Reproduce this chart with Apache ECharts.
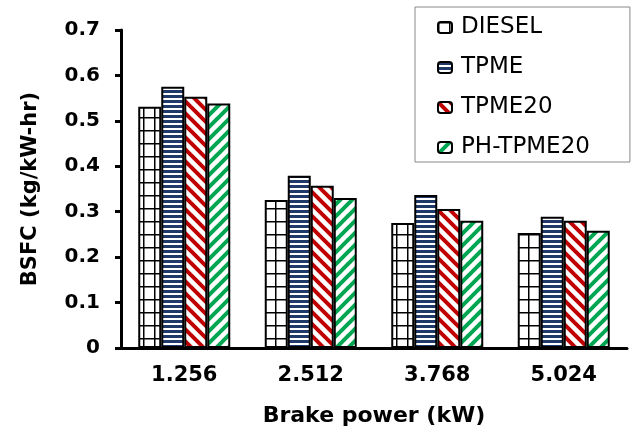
<!DOCTYPE html>
<html><head><meta charset="utf-8">
<script src="https://cdn.jsdelivr.net/npm/echarts@6/dist/echarts.min.js"></script>
<style>html,body{margin:0;padding:0;background:#fff}#c{width:635px;height:435px}</style>
</head><body><div id="c"></div>
<script>
var categories = ['1.256', '2.512', '3.768', '5.024'];
var seriesNames = ['DIESEL', 'TPME', 'TPME20', 'PH-TPME20'];
var diesel = [0.531, 0.326, 0.275, 0.253];
var tpme = [0.575, 0.379, 0.337, 0.289];
var tpme20 = [0.553, 0.357, 0.306, 0.280];
var phTpme20 = [0.538, 0.330, 0.280, 0.258];

function makeCanvas(w, h, draw) {
  var c = document.createElement('canvas');
  c.width = w; c.height = h;
  var ctx = c.getContext('2d');
  ctx.fillStyle = '#fff'; ctx.fillRect(0, 0, w, h);
  draw(ctx, w, h);
  return c;
}
var gridPat = makeCanvas(11, 13, function (ctx, w, h) {
  ctx.fillStyle = '#000';
  ctx.fillRect(0, 0, w, 1.5);
  ctx.fillRect(0, 0, 1.5, h);
});
var hPat = makeCanvas(6, 5, function (ctx, w, h) {
  ctx.fillStyle = '#1F3A68';
  ctx.fillRect(0, 0, w, 3);
});
function diag(color, dir) {
  return makeCanvas(12, 12, function (ctx, w, h) {
    ctx.strokeStyle = color; ctx.lineWidth = 4; ctx.lineCap = 'square';
    for (var k = -w; k <= w; k += w) {
      ctx.beginPath();
      if (dir > 0) { ctx.moveTo(k, 0); ctx.lineTo(k + w, h); }
      else { ctx.moveTo(k, h); ctx.lineTo(k + w, 0); }
      ctx.stroke();
    }
  });
}
var redPat = diag('#C00000', 1);
var greenPat = diag('#00A651', -1);
var patterns = [gridPat, hPat, redPat, greenPat];
var dataSets = [diesel, tpme, tpme20, phTpme20];

var chart = echarts.init(document.getElementById('c'), null, {renderer: 'canvas'});
var font = '"DejaVu Sans", sans-serif';
chart.setOption({
  animation: false,
  backgroundColor: '#fff',
  grid: {left: 121, right: 8, top: 30, bottom: 87},
  legend: {
    orient: 'vertical', left: 415, top: 7,
    padding: [8, 40, 2, 22],
    borderColor: '#888', borderWidth: 1,
    itemWidth: 14, itemHeight: 11, itemGap: 15,
    data: seriesNames,
    textStyle: {fontFamily: font, fontSize: 23, lineHeight: 25, color: '#000', padding: [0, 0, 0, 4]}
  },
  xAxis: {
    type: 'category', data: categories,
    axisLine: {lineStyle: {color: '#000', width: 3}},
    axisTick: {lineStyle: {color: '#000', width: 3}, length: 6},
    axisLabel: {fontFamily: font, fontSize: 21, fontWeight: 'bold', color: '#000', margin: 17},
    name: 'Brake power (kW)', nameLocation: 'middle', nameGap: 57,
    nameTextStyle: {fontFamily: font, fontSize: 22, fontWeight: 'bold', color: '#000'}
  },
  yAxis: {
    type: 'value', min: 0, max: 0.7, interval: 0.1,
    axisLine: {show: true, lineStyle: {color: '#000', width: 3}},
    axisTick: {show: true, lineStyle: {color: '#000', width: 3}, length: 6},
    splitLine: {show: false},
    axisLabel: {fontFamily: font, fontSize: 20, fontWeight: 'bold', color: '#000', margin: 21},
    name: 'BSFC (kg/kW-hr)', nameLocation: 'middle', nameGap: 80,
    nameTextStyle: {fontFamily: font, fontSize: 21, fontWeight: 'bold', color: '#000'}
  },
  series: seriesNames.map(function (n, i) {
    return {
      name: n, type: 'bar', data: dataSets[i],
      barWidth: 23, barGap: '0%',
      itemStyle: {color: {image: patterns[i], repeat: 'repeat'}, borderColor: '#000', borderWidth: 2}
    };
  })
});
</script></body></html>
